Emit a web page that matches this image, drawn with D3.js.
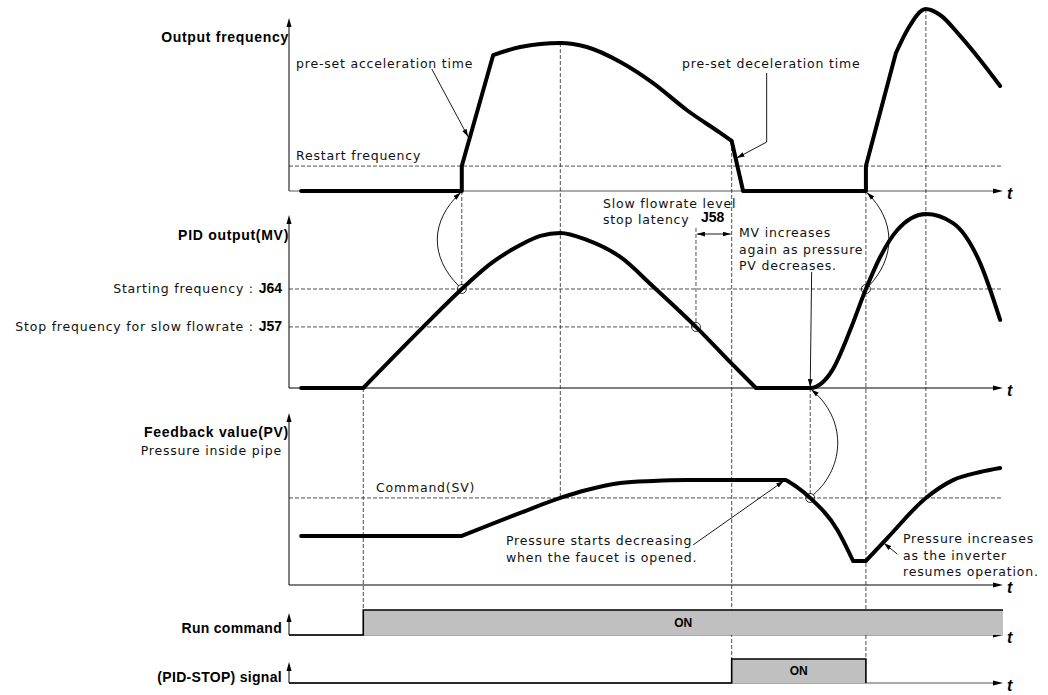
<!DOCTYPE html>
<html>
<head>
<meta charset="utf-8">
<script src="https://cdn.jsdelivr.net/npm/d3@7"></script>
<style>
  body { margin: 0; background: #fff; }
  svg { display: block; }
  .note { font-family: "DejaVu Sans", sans-serif; font-size: 12.5px; letter-spacing: 0.8px; fill: #111; }
  .head { font-family: "Liberation Sans", Arial, sans-serif; font-weight: bold; font-size: 14px; letter-spacing: 0.7px; fill: #000; }
  .sig { font-family: "Liberation Sans", Arial, sans-serif; font-weight: bold; font-size: 14px; letter-spacing: 0.3px; fill: #000; }
  .code { font-family: "Liberation Sans", Arial, sans-serif; font-weight: bold; font-size: 14px; letter-spacing: 0; fill: #000; }
  .on { font-family: "Liberation Sans", Arial, sans-serif; font-weight: bold; font-size: 12px; fill: #000; }
  .tlabel { font-family: "Liberation Sans", Arial, sans-serif; font-style: italic; font-weight: bold; font-size: 16px; fill: #000; }
  .guide { stroke: #222; stroke-width: 0.8; stroke-dasharray: 4 2; fill: none; }
  .trace { stroke: #000; stroke-width: 4; fill: none; stroke-linejoin: round; stroke-linecap: round; }
  .axis { stroke: #000; stroke-width: 1; fill: none; }
  .pointer { stroke: #000; stroke-width: 0.9; fill: none; }
</style>
</head>
<body>
<div id="wrapper"></div>
<script>
// 1. Data (time 0-100, each panel's level 0-100; third item marks a sharp corner)

const outputFrequency = [
  [1.7, 0], [24.2, 0, 1], [24.2, 13.7, 1], [28.6, 74.7, 1], [32.4, 79.1], [38.0, 81.3],
  [41.7, 79.1], [46.4, 70.9], [51.0, 59.3], [55.7, 44.5], [60.4, 31.9], [62.0, 27.5, 1],
  [63.6, 0, 1], [80.8, 0, 1], [80.8, 13.7, 1], [85.0, 75.8, 1], [86.6, 88.5], [89.2, 100],
  [91.2, 96.7], [94.0, 85.2], [96.8, 72.0], [99.6, 57.7],
];
const pidOutput = [
  [1.7, 0], [10.4, 0, 1], [18.8, 35.1], [24.2, 56.9], [28.2, 71.3], [32.4, 82.2],
  [35.2, 87.4], [38.0, 89.1], [41.7, 85.1], [46.4, 75.3], [51.0, 58.3], [57.0, 35.1],
  [61.9, 14.4], [65.4, 0, 1], [73.0, 0], [76.1, 10.3], [78.6, 33.3], [80.8, 56.9],
  [82.8, 75.3], [85.2, 90.8], [89.2, 100], [93.0, 94.8], [96.8, 71.8], [99.6, 39.1],
];
const feedbackValue = [
  [1.7, 28.5], [24.2, 28.5, 1], [32.4, 41.9], [38.0, 50.6], [41.7, 55.2], [46.4, 59.3],
  [51.0, 60.5], [55.7, 61.0], [69.6, 61.0, 1], [71.1, 57.0], [73.0, 50.6], [76.8, 32.0],
  [79.0, 14.0, 1], [80.8, 14.0, 1], [83.8, 27.3], [89.2, 50.6], [93.0, 61.0],
  [96.8, 65.7], [99.6, 68.0],
];

const restartLevel = 13.7;
const startLevel = 56.9;    // J64
const slowStopLevel = 35.1; // J57
const commandLevel = 50.6;  // SV

const runCommandOn = [10.4, 100];
const pidStopOn = [62.0, 80.8];
const latency = [57.0, 62.0, 88.5]; // J58: start, end, drawn at level

const levelLines = [
  { panel: "freq", v: restartLevel, t0: 0, t1: 100 },
  { panel: "mv", v: startLevel, t0: 0, t1: 100 },
  { panel: "mv", v: slowStopLevel, t0: 0, t1: 57.0 },
  { panel: "pv", v: commandLevel, t0: 0, t1: 100 },
];
const guides = [
  { t: 24.2, from: ["freq", 0], to: ["mv", startLevel] },
  { t: 10.4, from: ["mv", 0], to: ["run", 1] },
  { t: 38.0, from: ["freq", 81.3], to: ["pv", commandLevel] },
  { t: 57.0, from: ["mv", 92], to: ["mv", slowStopLevel] },
  { t: 62.0, from: ["freq", 27.5], to: ["stop", 1] },
  { t: 80.8, from: ["freq", 0], to: ["stop", 1] },
  { t: 89.2, from: ["freq", 100], to: ["pv", commandLevel] },
  { t: 73.0, from: ["mv", 0], to: ["pv", commandLevel] },
];
const crossings = [
  { panel: "mv", t: 24.2, v: startLevel },
  { panel: "mv", t: 57.0, v: slowStopLevel },
  { panel: "mv", t: 80.8, v: startLevel },
  { panel: "pv", t: 73.0, v: commandLevel },
];
// curved arrows from a crossing up to the panel above
const links = [
  { t: 24.2, from: ["mv", startLevel], to: ["freq", 0], bow: -32 },
  { t: 80.8, from: ["mv", startLevel], to: ["freq", 0], bow: 30 },
  { t: 73.0, from: ["pv", commandLevel], to: ["mv", 0], bow: 36 },
];
// straight pointer arrows: [panel, t, v] points, arrowhead at the last
const pointers = [
  ["freq", [[20.0, 67.0], [25.1, 29.7]]],
  ["freq", [[66.9, 64.8], [66.9, 26.9], [62.7, 18.1]]],
  ["mv", [[73.2, 66.7], [73.0, 0.5]]],
  ["pv", [[56.6, 23.3], [69.3, 60.5]]],
  ["pv", [[85.2, 18.0], [83.3, 24.4]]],
];

function drawChart() {

  // 2. Dimensions

  const dimensions = { width: 1048, height: 695, axisX: 289, axisEnd: 1003 };
  const panels = {
    freq: { base: 191, top: 9, axisTop: 18 },
    mv: { base: 388, top: 214, axisTop: 215 },
    pv: { base: 585, top: 413, axisTop: 413 },
    run: { base: 635, top: 610, axisTop: 613, signal: true },
    stop: { base: 683, top: 659, axisTop: 662, signal: true },
  };

  // 3. Scales

  const xScale = d3.scaleLinear()
    .domain([0, 100])
    .range([dimensions.axisX, dimensions.axisEnd]);
  Object.values(panels).forEach(p => {
    p.y = d3.scaleLinear()
      .domain(p.signal ? [0, 1] : [0, 100])
      .range([p.base, p.top]);
  });
  const px = ([name, v], t) => [xScale(t), panels[name].y(v)];

  // 4. Canvas

  const svg = d3.select("#wrapper")
    .append("svg")
      .attr("width", dimensions.width)
      .attr("height", dimensions.height);

  const defs = svg.append("defs");
  defs.append("marker")
      .attr("id", "head")
      .attr("viewBox", "0 0 10 6")
      .attr("refX", 10)
      .attr("refY", 3)
      .attr("markerUnits", "userSpaceOnUse")
      .attr("markerWidth", 8)
      .attr("markerHeight", 5)
      .attr("orient", "auto-start-reverse")
    .append("path")
      .attr("d", "M0,0L10,3L0,6Z")
      .attr("fill", "#000");

  // 5. Axes

  Object.values(panels).forEach(p => {
    svg.append("line")
        .attr("class", "axis")
        .attr("x1", dimensions.axisX).attr("x2", dimensions.axisX)
        .attr("y1", p.base).attr("y2", p.axisTop + 4);
    svg.append("path")
        .attr("d", `M${dimensions.axisX},${p.axisTop}l-2.5,9h5z`);
    svg.append("line")
        .attr("class", "axis")
        .attr("x1", dimensions.axisX).attr("x2", dimensions.axisEnd - 4)
        .attr("y1", p.base).attr("y2", p.base)
        .style("stroke", p === panels.freq || p.signal ? "#555" : "#000");
    svg.append("path")
        .attr("d", `M${dimensions.axisEnd},${p.base}l-10,-2.5v5z`);
    svg.append("text")
        .attr("class", "tlabel")
        .attr("x", dimensions.axisEnd + 4)
        .attr("y", p.base + 8)
        .text("t");
  });

  // 6. Dashed levels and guides

  svg.selectAll(".level")
    .data(levelLines)
    .join("line")
      .attr("class", "guide level")
      .attr("x1", d => xScale(d.t0))
      .attr("x2", d => xScale(d.t1))
      .attr("y1", d => panels[d.panel].y(d.v))
      .attr("y2", d => panels[d.panel].y(d.v));

  svg.selectAll(".vguide")
    .data(guides)
    .join("line")
      .attr("class", "guide vguide")
      .attr("x1", d => xScale(d.t))
      .attr("x2", d => xScale(d.t))
      .attr("y1", d => px(d.from, d.t)[1])
      .attr("y2", d => px(d.to, d.t)[1]);

  // 7. Signals

  const drawSignal = (p, on, rightEdge) => {
    const x0 = xScale(on[0]);
    const x1 = xScale(on[1]);
    svg.append("rect")
        .attr("x", x0)
        .attr("y", p.y(1))
        .attr("width", x1 - x0)
        .attr("height", p.y(0) - p.y(1))
        .attr("fill", "#c0c0c0");
    svg.append("path")
        .attr("d", `M${dimensions.axisX},${p.y(0)}H${x0}V${p.y(1)}H${x1}`
          + (rightEdge ? `V${p.y(0)}` : ""))
        .attr("fill", "none")
        .attr("stroke", "#000")
        .attr("stroke-width", 1.6);
    svg.append("text")
        .attr("class", "on")
        .attr("x", (x0 + x1) / 2)
        .attr("y", (p.y(0) + p.y(1)) / 2 + 4)
        .attr("text-anchor", "middle")
        .text("ON");
  };
  drawSignal(panels.run, runCommandOn, false);
  drawSignal(panels.stop, pidStopOn, true);

  // 8. Traces

  const line = d3.line()
    .x(d => xScale(d[0]))
    .curve(d3.curveMonotoneX);
  const tracePath = (points, yScale) => {
    const runs = [];
    let run = [points[0]];
    points.slice(1).forEach((p, i) => {
      run.push(p);
      if (p[2] && i < points.length - 2) {
        runs.push(run);
        run = [p];
      }
    });
    runs.push(run);
    line.y(d => yScale(d[1]));
    return runs.map(r => line(r)).join("");
  };
  [
    [outputFrequency, panels.freq],
    [pidOutput, panels.mv],
    [feedbackValue, panels.pv],
  ].forEach(([points, p]) => {
    svg.append("path")
        .attr("class", "trace")
        .attr("d", tracePath(points, p.y));
  });

  // 9. Crossings, links and pointers

  svg.selectAll(".crossing")
    .data(crossings)
    .join("circle")
      .attr("class", "crossing")
      .attr("cx", d => xScale(d.t))
      .attr("cy", d => panels[d.panel].y(d.v))
      .attr("r", 4.5)
      .attr("fill", "none")
      .attr("stroke", "#000")
      .attr("stroke-width", 0.8);

  svg.selectAll(".link")
    .data(links)
    .join("path")
      .attr("class", "pointer link")
      .attr("marker-end", "url(#head)")
      .attr("d", d => {
        const [x0, y0] = px(d.from, d.t);
        const [x1, y1] = px(d.to, d.t);
        const sx = x0 + Math.sign(d.bow) * 3;
        const ex = x1 + Math.sign(d.bow) * 1;
        return `M${sx},${y0 - 3}C${x0 + d.bow},${y0 - 32} ${x1 + d.bow},${y1 + 30} ${ex},${y1 + 1.5}`;
      });

  svg.selectAll(".arrow")
    .data(pointers)
    .join("path")
      .attr("class", "pointer arrow")
      .attr("marker-end", "url(#head)")
      .attr("d", ([name, pts]) => d3.line()(pts.map(([t, v]) => px([name, v], t))));

  const [l0, l1, lv] = latency;
  svg.append("line")
      .attr("class", "pointer")
      .attr("marker-start", "url(#head)")
      .attr("marker-end", "url(#head)")
      .attr("x1", xScale(l0) + 1).attr("x2", xScale(l1) - 1)
      .attr("y1", panels.mv.y(lv)).attr("y2", panels.mv.y(lv));

  // 10. Text

  const addText = (x, y, cls, anchor, parts) => {
    const text = svg.append("text")
        .attr("x", x)
        .attr("y", y)
        .attr("text-anchor", anchor);
    parts.forEach(([str, c]) => {
      text.append("tspan")
          .attr("class", c || cls)
          .text(str);
    });
    return text;
  };
  const labelX = dimensions.axisX - 7;

  addText(dimensions.axisX, 42, "head", "end", [["Output frequency"]]);
  addText(dimensions.axisX, 240, "head", "end", [["PID output(MV)"]]);
  addText(dimensions.axisX, 437, "head", "end", [["Feedback value(PV)"]]);
  addText(labelX, 455, "note", "end", [["Pressure inside pipe"]]);
  addText(labelX, 293, "note", "end", [["Starting frequency : "], ["J64", "code"]]);
  addText(labelX, 331, "note", "end", [["Stop frequency for slow flowrate : "], ["J57", "code"]]);
  addText(labelX, 633, "sig", "end", [["Run command"]]);
  addText(labelX, 682, "sig", "end", [["(PID-STOP) signal"]]);

  addText(296, 68, "note", "start", [["pre-set acceleration time"]]);
  addText(296, 160, "note", "start", [["Restart frequency"]]);
  addText(682, 68, "note", "start", [["pre-set deceleration time"]]);
  addText(603, 208, "note", "start", [["Slow flowrate level"]]);
  addText(603, 224, "note", "start", [["stop latency"]]);
  addText(701, 222, "code", "start", [["J58"]]);
  ["MV increases", "again as pressure", "PV decreases."].forEach((s, i) => {
    addText(739, 237 + i * 16.5, "note", "start", [[s]]);
  });
  addText(376, 492, "note", "start", [["Command(SV)"]]);
  ["Pressure starts decreasing", "when the faucet is opened."].forEach((s, i) => {
    addText(506, 545 + i * 17, "note", "start", [[s]]);
  });
  ["Pressure increases", "as the inverter", "resumes operation."].forEach((s, i) => {
    addText(903, 543 + i * 16.5, "note", "start", [[s]]);
  });
}
drawChart();
</script>
</body>
</html>
